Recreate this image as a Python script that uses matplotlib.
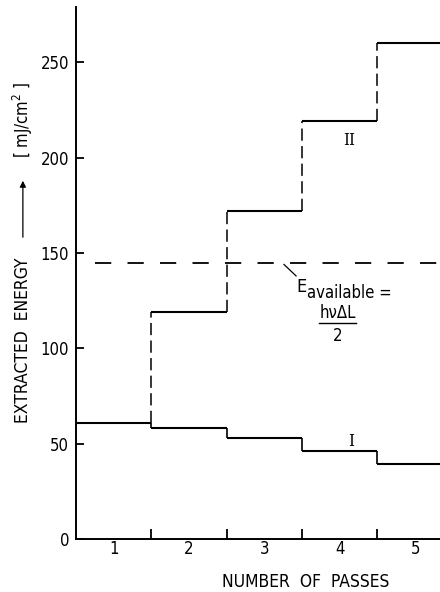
import matplotlib
matplotlib.use("Agg")

import matplotlib.pyplot as plt
import numpy as np

# data
passes = [1, 2, 3, 4, 5]
tick_labels = ["1", "2", "3", "4", "5"]
energy_I = [61, 58, 53, 46, 39.5]
energy_II = [61, 119, 172, 219, 260]
e_available = 144.5

plt.rcParams.update({
    "font.family": ["DejaVu Sans"],
    "font.stretch": "condensed",
    "axes.linewidth": 1.4,
})

fig = plt.figure(figsize=(4.4, 5.92), dpi=100)
ax = fig.add_axes([0.1727, 0.0895, 0.8273, 0.8986])

x = np.array(passes, dtype=float)
left = x - 0.5
right = x + 0.5

# curve I: solid steps
ax.hlines(energy_I, left, right, color="black", lw=1.5)
ax.vlines(right[:-1], energy_I[1:], energy_I[:-1], color="black", lw=1.2)

# curve II: solid horizontals, dashed risers
ax.hlines(energy_II[1:], left[1:], right[1:], color="black", lw=1.5)
for xr, y0, y1 in zip(right[:-1], energy_II[:-1], energy_II[1:]):
    ax.plot([xr, xr], [y0, y1], color="black", lw=1.1, dashes=(8, 3.5))

# available energy line
ax.plot([0.75, 5.6], [e_available, e_available], color="black", lw=1.3,
        dashes=(9, 9))

ax.set_xlim(0.5, 5.33)
ax.set_ylim(0, 279)
ax.spines["top"].set_visible(False)
ax.spines["right"].set_visible(False)

ax.set_yticks([0, 50, 100, 150, 200, 250])
ax.tick_params(axis="y", direction="in", length=6, width=1.3, labelsize=12, pad=5)
ax.set_xticks(right[:-1])
ax.set_xticklabels([])
ax.tick_params(axis="x", which="major", direction="in", length=7, width=1.3)
ax.set_xticks(x, minor=True)
ax.set_xticklabels(tick_labels, minor=True)
ax.tick_params(axis="x", which="minor", length=0, labelsize=12, pad=1)

# curve labels
ax.text(4.12, 209, "II", family="DejaVu Serif", fontsize=12, ha="center", va="center")
ax.text(4.15, 51, "I", family="DejaVu Serif", fontsize=12, ha="center", va="center")

# E_available annotation
ax.plot([3.26, 3.42], [144, 138], color="black", lw=0.9)
ax.text(3.43, 132, "E", fontsize=13, ha="left", va="center")
ax.text(3.57, 129, "available =", fontsize=12, ha="left", va="center")
ax.text(3.97, 118.5, "hν\u0394L", fontsize=12, ha="center", va="center")
ax.plot([3.72, 4.22], [113.4, 113.4], color="black", lw=1.0)
ax.text(3.97, 106.5, "2", fontsize=12, ha="center", va="center")

# axis labels
fig.text(0.695, 0.017, "NUMBER  OF  PASSES", fontsize=12.5, ha="center", va="center")
fig.text(0.052, (592 - 340) / 592, "EXTRACTED  ENERGY", fontsize=12.5,
         rotation=90, ha="center", va="center")
fig.text(0.052, (592 - 120) / 592, "[ mJ/cm$^2$ ]", fontsize=12,
         rotation=90, ha="center", va="center")
fig.add_artist(matplotlib.patches.FancyArrowPatch(
    (0.052, (592 - 240) / 592), (0.052, (592 - 178) / 592),
    transform=fig.transFigure, arrowstyle="-|>", mutation_scale=9,
    color="black", lw=0.9))

fig.savefig("out.png", dpi=100)
